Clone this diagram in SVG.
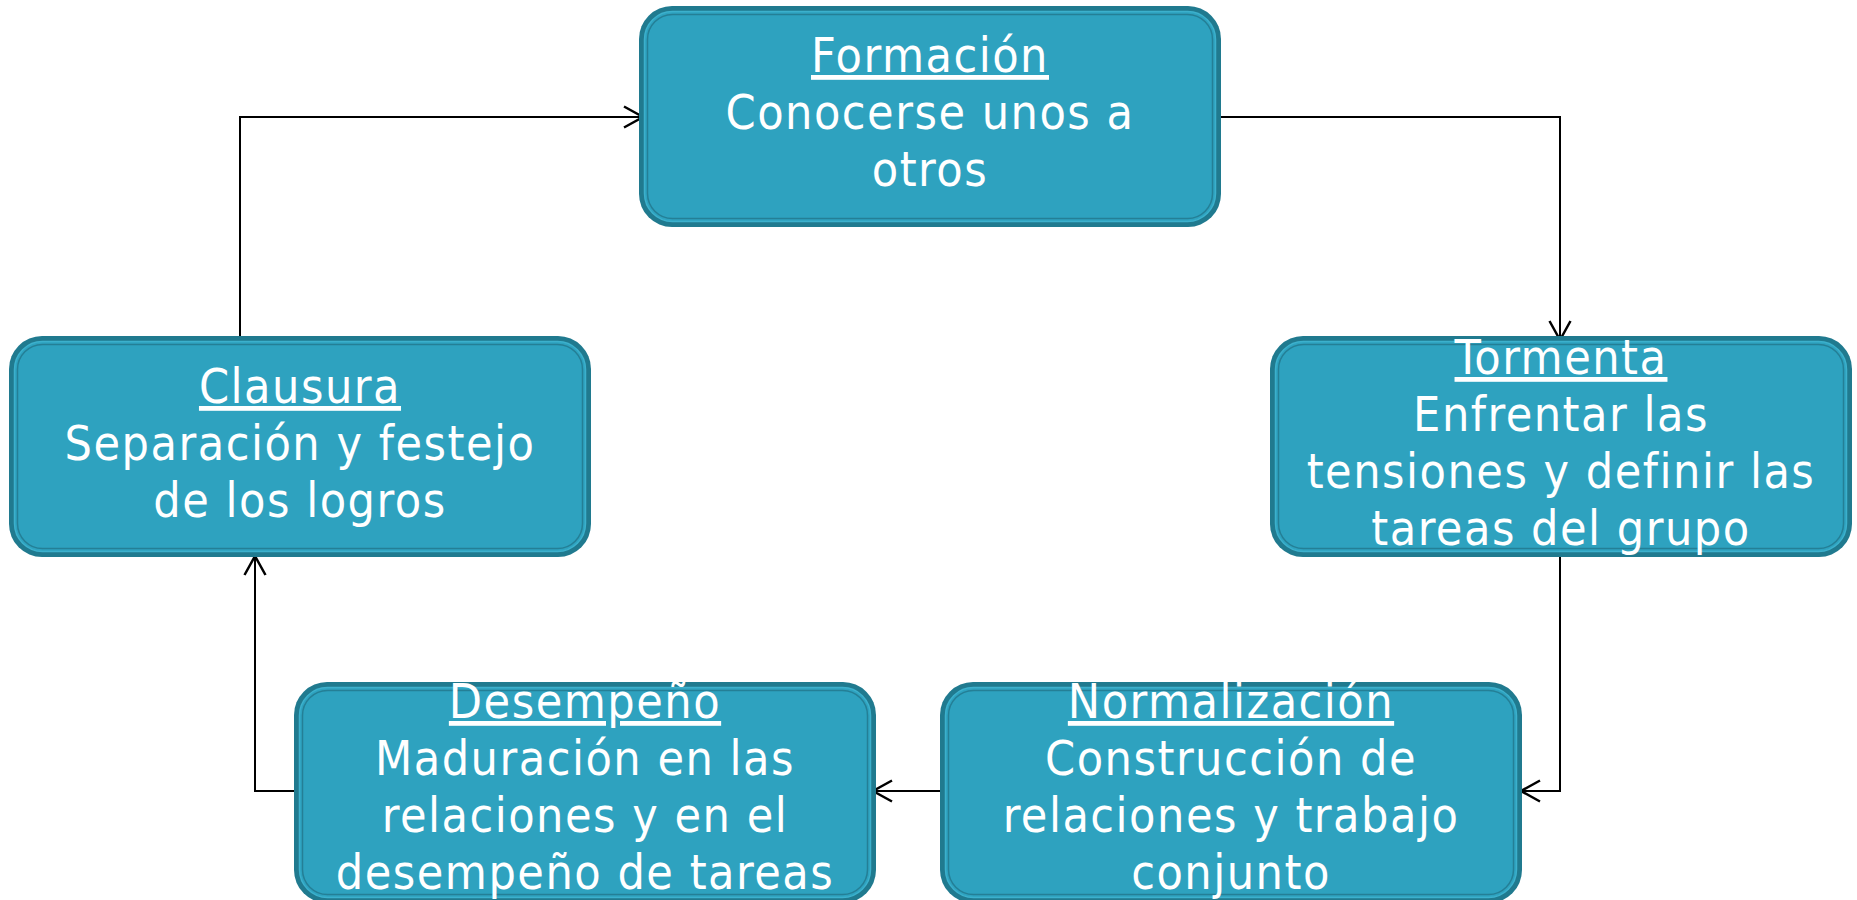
<svg xmlns="http://www.w3.org/2000/svg" width="1857" height="900" viewBox="0 0 1857 900">
<style>
.outer{fill:#207a8f;}
.mid{fill:#2ea2bf;stroke:#3cb0cc;stroke-width:1.5;}
.inner{fill:none;stroke:#247f96;stroke-width:1.5;}
.t{font-family:"DejaVu Sans Condensed","DejaVu Sans",sans-serif;font-size:48px;letter-spacing:1.5px;fill:#ffffff;text-anchor:middle;}
.u{text-decoration:underline;}
.c{fill:none;stroke:#000;stroke-width:2;}
</style>
<defs>
<marker id="arr" viewBox="0 0 24 24" refX="21" refY="12" markerWidth="24" markerHeight="24" markerUnits="userSpaceOnUse" orient="auto">
<path d="M2,1.5 L21,12 L2,22.5" fill="none" stroke="#000" stroke-width="2.5"/>
</marker>
<g id="box">
<rect class="outer" x="0" y="0" width="582" height="221" rx="33"/>
<rect class="mid" x="5.5" y="5.5" width="571" height="210" rx="28"/>
<rect class="inner" x="8.5" y="8.5" width="565" height="204" rx="25"/>
</g>
</defs>
<rect width="1857" height="900" fill="#ffffff"/>
<g id="connectors">
<path class="c" d="M240,338 V117 H643" marker-end="url(#arr)"/>
<path class="c" d="M1221,117 H1560 V340" marker-end="url(#arr)"/>
<path class="c" d="M1560,557 V791 H1521" marker-end="url(#arr)"/>
<path class="c" d="M941,791 H873" marker-end="url(#arr)"/>
<path class="c" d="M295,791 H255 V556" marker-end="url(#arr)"/>
</g>
<g id="formacion">
<use href="#box" x="639" y="6"/>
<text class="t u" x="930" y="72">Formación</text>
<text class="t" x="930" y="129">Conocerse unos a</text>
<text class="t" x="930" y="186">otros</text>
</g>
<g id="tormenta">
<use href="#box" x="1270" y="336"/>
<text class="t u" x="1561" y="374">Tormenta</text>
<text class="t" x="1561" y="431">Enfrentar las</text>
<text class="t" x="1561" y="488">tensiones y definir las</text>
<text class="t" x="1561" y="545">tareas del grupo</text>
</g>
<g id="clausura">
<use href="#box" x="9" y="336"/>
<text class="t u" x="300" y="403">Clausura</text>
<text class="t" x="300" y="460">Separación y festejo</text>
<text class="t" x="300" y="517">de los logros</text>
</g>
<g id="desempeno">
<use href="#box" x="294" y="682"/>
<text class="t u" x="585" y="718">Desempeño</text>
<text class="t" x="585" y="775">Maduración en las</text>
<text class="t" x="585" y="832">relaciones y en el</text>
<text class="t" x="585" y="889">desempeño de tareas</text>
</g>
<g id="normalizacion">
<use href="#box" x="940" y="682"/>
<text class="t u" x="1231" y="718">Normalización</text>
<text class="t" x="1231" y="775">Construcción de</text>
<text class="t" x="1231" y="832">relaciones y trabajo</text>
<text class="t" x="1231" y="889">conjunto</text>
</g>
</svg>
